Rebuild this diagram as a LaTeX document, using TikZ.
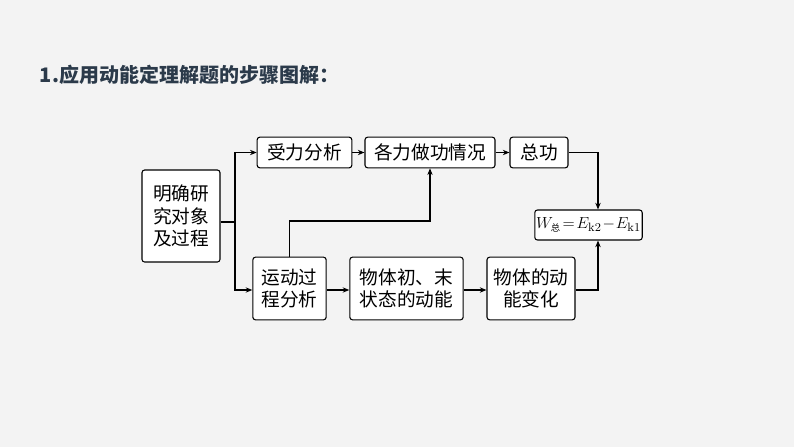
\documentclass[tikz,border=0pt]{standalone}
\usepackage{fontspec}
\newfontfamily\cjk{Noto Sans CJK SC}
\usetikzlibrary{arrows.meta}
\definecolor{bgcol}{HTML}{F3F3F3}
\definecolor{titlecol}{HTML}{2B3A4A}
\begin{document}
\begin{tikzpicture}[x=0.75pt,y=-0.75pt,>={Stealth[length=5pt,width=4pt]},
                    thick,step box/.style={draw,rounded corners=2pt,fill=white,
                    inner sep=1pt,align=center,font=\cjk\fontsize{14}{17}\selectfont}]
  \fill[bgcol] (0,0) rectangle (794,447);
  \node[anchor=west,text=titlecol,font=\cjk\bfseries\fontsize{15}{18}\selectfont] (title) at (35,75) {1.应用动能定理解题的步骤图解：};
  \node[step box,minimum width=58.5pt,minimum height=69pt] (obj) at (181,216) {明确研\\究对象\\及过程};
  \node[step box,minimum width=71pt,minimum height=23pt] (force) at (304.5,152.5) {受力分析};
  \node[step box,minimum width=97.5pt,minimum height=23pt] (work) at (430,152.5) {各力做功情况};
  \node[step box,minimum width=43.5pt,minimum height=23pt] (total) at (539,152.5) {总功};
  \node[step box,minimum width=80pt,minimum height=22.5pt,font=\fontsize{13}{15}\selectfont] (thm) at (588.5,225)
    {$W_{\mbox{\cjk\scriptsize 总}}\!=\!E_{\mathrm{k}2}\!-\!E_{\mathrm{k}1}$};
  \node[step box,minimum width=55pt,minimum height=47pt] (motion) at (289.5,288.5) {运动过\\程分析};
  \node[step box,minimum width=85pt,minimum height=47pt] (state) at (406.5,288.5) {物体初、末\\状态的动能};
  \node[step box,minimum width=66pt,minimum height=47pt] (change) at (531,288.5) {物体的动\\能变化};
  \coordinate (fork) at (235,222);
  \draw (obj.east |- fork) -- (fork);
  \draw[->] (fork) |- (force.west);
  \draw[->] (fork) |- (motion.west |- 0,290);
  \draw[->] (force) -- (work);
  \draw[->] (work) -- (total);
  \draw[->] (motion.north) |- (work.south |- 0,221) -- (work.south);
  \draw[->] (state.east |- 0,290) -- (change.west |- 0,290);
  \draw[->] (motion.east |- 0,290) -- (state.west |- 0,290);
  \draw[->] (total.east) -| (thm.north -| 598,0);
  \draw[->] (change.east |- 0,290) -| (thm.south -| 598,0);
\end{tikzpicture}
\end{document}
